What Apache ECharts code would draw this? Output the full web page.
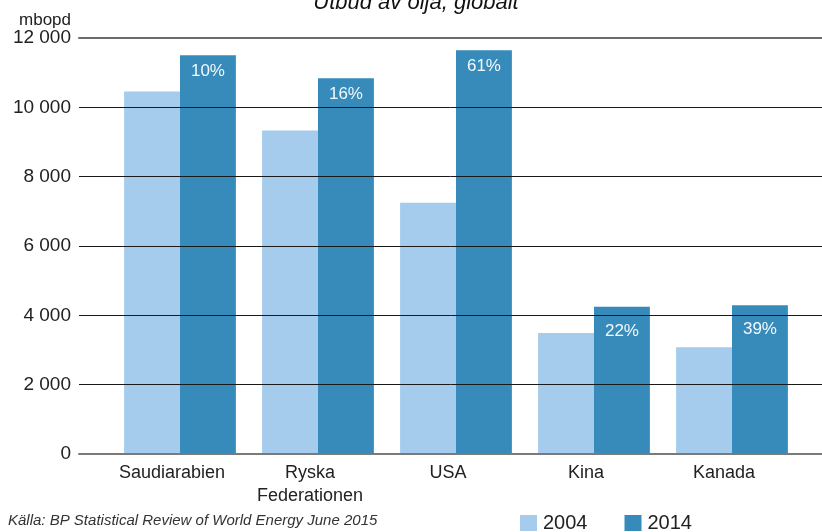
<!DOCTYPE html>
<html>
<head>
<meta charset="utf-8">
<script src="https://cdn.jsdelivr.net/npm/echarts@6/dist/echarts.min.js"></script>
<style>
  html, body { margin: 0; padding: 0; background: #fff; }
  #chart { width: 822px; height: 532px; }
</style>
</head>
<body>
<div id="chart"></div>
<script>
// data (mbopd)
const countries = ['Saudiarabien', 'Ryska\nFederationen', 'USA', 'Kina', 'Kanada'];
const values2004 = [10460, 9335, 7250, 3490, 3080];
const values2014 = [11505, 10840, 11645, 4245, 4290];
const growthLabels = ['10%', '16%', '61%', '22%', '39%'];

const fontMain = 'Liberation Sans, Arial, sans-serif';

// short bars get their label pushed below the 4 000 gridline, like in the original
const labelDistance = [8, 8, 8, 16, 16];

var chart = echarts.init(document.getElementById('chart'));

var option = {
  animation: false,
  title: {
    text: 'Utbud av olja, globalt',
    left: 411,
    textAlign: 'center',
    top: -13,
    textStyle: { fontFamily: fontMain, fontSize: 22, fontStyle: 'italic', fontWeight: 'normal', color: '#111' }
  },
  legend: {
    data: ['2004', '2014'],
    left: 520,
    top: 513,
    padding: 0,
    itemWidth: 17,
    itemHeight: 16,
    itemGap: 37,
    icon: 'rect',
    textStyle: { fontFamily: fontMain, fontSize: 20, color: '#222', padding: [0, 0, 0, 1] }
  },
  graphic: [{
    type: 'text',
    left: 8,
    top: 513,
    style: {
      text: 'Källa: BP Statistical Review of World Energy June 2015',
      font: 'italic 15px ' + fontMain,
      fill: '#333'
    }
  }],
  grid: [
    { left: 111, right: 21, top: 38, bottom: 78 },
    { left: 79, right: 0, top: 38, bottom: 78 }
  ],
  xAxis: [
    {
      type: 'category',
      gridIndex: 0,
      data: countries,
      axisLine: { show: false },
      axisTick: { show: false },
      axisLabel: { fontFamily: fontMain, fontSize: 18, color: '#222', margin: 8, lineHeight: 23, padding: [0, 16, 0, 0] }
    },
    {
      type: 'value',
      gridIndex: 1,
      min: 0,
      max: 1,
      z: 6,
      axisLine: { show: true, lineStyle: { color: '#7a7a7a', width: 2 } },
      axisTick: { show: false },
      axisLabel: { show: false },
      splitLine: { show: false }
    },
    {
      type: 'value',
      gridIndex: 1,
      position: 'top',
      min: 0,
      max: 1,
      z: 6,
      axisLine: { show: true, lineStyle: { color: '#6a6a6a', width: 2 } },
      axisTick: { show: false },
      axisLabel: { show: false },
      splitLine: { show: false }
    }
  ],
  yAxis: [
    {
      type: 'value',
      gridIndex: 0,
      min: 0,
      max: 12000,
      interval: 2000,
      show: false
    },
    {
      type: 'value',
      gridIndex: 1,
      min: 0,
      max: 12000,
      interval: 2000,
      z: 5,
      name: 'mbopd',
      nameLocation: 'end',
      nameGap: 9,
      nameTextStyle: { fontFamily: fontMain, fontSize: 17, color: '#222', align: 'right', padding: [0, 8, 0, 0] },
      axisLine: { show: false },
      axisTick: { show: false },
      axisLabel: {
        fontFamily: fontMain,
        fontSize: 19,
        color: '#222',
        margin: 8,
        formatter: function (v) {
          return String(v).replace(/\B(?=(\d{3})+(?!\d))/g, ' ');
        }
      },
      splitLine: { show: true, lineStyle: { color: '#1a1a1a', width: 1 } }
    }
  ],
  series: [
    {
      name: '2004',
      type: 'bar',
      xAxisIndex: 0,
      yAxisIndex: 0,
      data: values2004,
      barGap: '0%',
      barCategoryGap: '19%',
      itemStyle: { color: '#a5cbed' }
    },
    {
      name: '2014',
      type: 'bar',
      xAxisIndex: 0,
      yAxisIndex: 0,
      data: values2014.map(function (v, i) {
        return { value: v, label: { distance: labelDistance[i] } };
      }),
      barGap: '0%',
      barCategoryGap: '19%',
      itemStyle: { color: '#378bba' },
      label: {
        show: true,
        position: 'insideTop',
        fontFamily: fontMain,
        fontSize: 17,
        color: '#f4f8fb',
        formatter: function (p) { return growthLabels[p.dataIndex]; }
      }
    }
  ]
};

chart.setOption(option);
</script>
</body>
</html>
